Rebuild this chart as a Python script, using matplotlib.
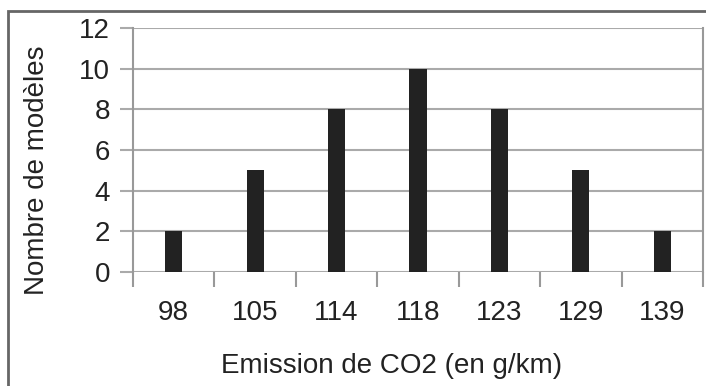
import matplotlib.pyplot as plt
import numpy as np
from matplotlib.patches import Rectangle

plt.rcParams['font.family'] = ['Liberation Sans', 'DejaVu Sans']

emissions = ["98", "105", "114", "118", "123", "129", "139"]
counts = [2, 5, 8, 10, 8, 5, 2]
yticks = [0, 2, 4, 6, 8, 10, 12]

fig = plt.figure(figsize=(7.06, 3.86), dpi=100)
ax = fig.add_axes([133/706, 1 - 272/386, 570/706, 244/386])

x = np.arange(len(emissions))
ax.bar(x, counts, width=0.21, color="#222222", zorder=3)

ax.set_xlim(-0.5, len(emissions) - 0.5)
ax.set_ylim(0, 12)
ax.set_yticks(yticks)
ax.set_yticklabels([str(v) for v in yticks], fontsize=20, color="#222222")
ax.yaxis.grid(True, color="#aaaaaa", linewidth=1.5, zorder=0)

# category labels, ticks at the boundaries
ax.set_xticks(x)
ax.set_xticklabels(emissions, fontsize=20, color="#222222")
ax.set_xticks(np.arange(len(emissions) + 1) - 0.5, minor=True)
ax.tick_params(axis="x", which="major", length=0, pad=20)
ax.tick_params(axis="x", which="minor", length=10.8, width=1.5, color="#999999")
ax.tick_params(axis="y", length=9.4, width=1.5, color="#aaaaaa", pad=7)

for side in ["top", "bottom"]:
    ax.spines[side].set_visible(False)
for side in ["left", "right"]:
    ax.spines[side].set_color("#999999")
    ax.spines[side].set_linewidth(1.5)

ax.set_ylabel("Nombre de modèles", fontsize=20, color="#222222")
ax.yaxis.set_label_coords(-0.146, 0.418)
ax.set_xlabel("Emission de CO2 (en g/km)", fontsize=20, color="#222222")
ax.xaxis.set_label_coords(0.453, -0.331)

# outer frame
fig.patches.append(Rectangle((8/706, -0.1), 1.0, 1 - 11/386 + 0.1,
                             transform=fig.transFigure, fill=False,
                             edgecolor="#666666", linewidth=2))

fig.savefig("out.png", dpi=100)
